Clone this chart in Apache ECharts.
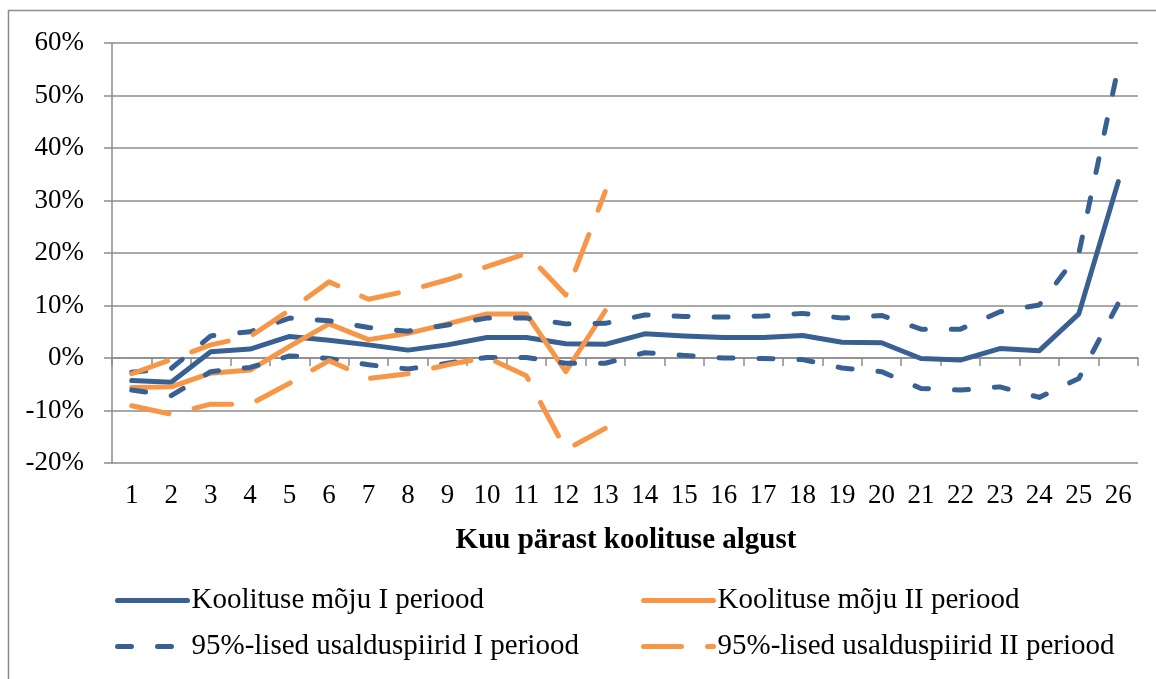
<!DOCTYPE html>
<html>
<head>
<meta charset="utf-8">
<script src="https://cdn.jsdelivr.net/npm/echarts@6/dist/echarts.min.js"></script>
<style>
html,body{margin:0;padding:0;background:#fff;}
#chart{width:1156px;height:679px;}
</style>
</head>
<body>
<div id="chart"></div>
<script>
const categories = ['1','2','3','4','5','6','7','8','9','10','11','12','13','14','15','16','17','18','19','20','21','22','23','24','25','26'];
const yTicks = [-20, -10, 0, 10, 20, 30, 40, 50, 60];
const blueMain  = [-4.3,-4.6,1.2,1.7,4.1,3.4,2.5,1.5,2.5,3.9,3.9,2.7,2.6,4.6,4.2,3.9,3.9,4.3,3.0,2.9,-0.1,-0.4,1.8,1.4,8.4,33.6];
const blueUpper = [-2.7,-2.0,4.2,5.0,7.6,7.1,5.8,5.1,6.3,7.6,7.6,6.5,6.6,8.2,7.9,7.8,8.0,8.5,7.6,8.1,5.5,5.5,8.8,10.1,19.9,55.4];
const blueLower = [-6.1,-7.2,-2.6,-1.8,0.4,-0.1,-1.3,-2.1,-1.0,0.1,0.1,-1.0,-1.0,1.0,0.5,0.0,-0.1,-0.3,-1.9,-2.6,-5.8,-6.1,-5.5,-7.5,-3.9,10.4];
const orangeMain  = [-5.6,-5.5,-2.9,-2.3,2.2,6.5,3.5,4.7,6.5,8.4,8.4,-2.6,9.0];
const orangeUpper = [-3.0,-0.3,2.5,4.1,9.1,14.5,11.2,12.8,14.9,17.4,19.9,12.0,31.7];
const orangeLower = [-9.1,-10.7,-8.8,-8.8,-4.8,-0.5,-3.9,-3.0,-1.3,0.1,-3.4,-17.5,-13.4];
const names = ['Koolituse mõju I periood','Koolituse mõju II periood','95%-lised usalduspiirid I periood','95%-lised usalduspiirid II periood'];

const BLUE = '#386093';
const ORANGE = '#F79646';
const GRID = '#8C8C8C';
const FONT = "'Liberation Serif', 'Times New Roman', serif";

const chart = echarts.init(document.getElementById('chart'), null, {renderer:'canvas'});

function line(name, data, color, dash){
  return {
    name: name, type: 'line', data: data, xAxisIndex: 0, yAxisIndex: 0,
    symbol: 'none', showSymbol: false, connectNulls: false, silent: true,
    lineStyle: {color: color, width: 5, type: dash || 'solid', cap: 'round', join: 'round'},
    itemStyle: {color: color},
    emphasis: {disabled: true},
    animation: false
  };
}
const blueDash = [14, 26];
const orangeDash = [38, 26];

function legend(name, left, top){
  return {
    data: [name], left: left, top: top, padding: 0, itemWidth: 70, itemHeight: 14, itemGap: 0,
    selectedMode: false,
    itemStyle: {opacity: 0},
    lineStyle: {width: 5, cap: 'round'},
    textStyle: {fontFamily: FONT, fontSize: 29, color: '#000', padding: [0,0,0,-1]}
  };
}

chart.setOption({
  backgroundColor: '#fff',
  animation: false,
  grid: [
    {left: 112, right: 18, top: 43, bottom: 216, containLabel: false},
    {left: 112, right: 18, top: 358, height: 105, containLabel: false}
  ],
  xAxis: [
    {
      gridIndex: 0, type: 'category', data: categories, boundaryGap: true, position: 'bottom',
      axisLine: {show: false, onZero: false}, axisTick: {show: false},
      axisLabel: {show: true, interval: 0, margin: 19, fontFamily: FONT, fontSize: 27, color: '#000'},
      splitLine: {show: false}
    },
    {
      gridIndex: 1, type: 'category', data: categories, boundaryGap: true, position: 'top',
      axisLine: {show: true, onZero: false, lineStyle: {color: GRID, width: 1.5}},
      axisTick: {show: true, inside: true, interval: 0, length: 8, lineStyle: {color: GRID, width: 1.5}},
      axisLabel: {show: false},
      splitLine: {show: false}
    }
  ],
  yAxis: [
    {
      gridIndex: 0, type: 'value', min: yTicks[0], max: yTicks[yTicks.length-1], interval: 10,
      axisLine: {show: true, onZero: false, lineStyle: {color: GRID, width: 1.5}},
      axisTick: {show: true, length: 8, lineStyle: {color: GRID, width: 1.5}},
      axisLabel: {formatter: '{value}%', margin: 28, fontFamily: FONT, fontSize: 27, color: '#000'},
      splitLine: {show: true, lineStyle: {color: GRID, width: 1.5}}
    },
    {
      gridIndex: 1, type: 'value', min: 0, max: 1, show: false,
      axisLine: {show: false, onZero: false}, axisTick: {show: false}, axisLabel: {show: false}, splitLine: {show: false}
    }
  ],
  legend: [
    legend(names[0], 115, 586),
    legend(names[1], 641, 586),
    legend(names[2], 115, 632),
    legend(names[3], 641, 632)
  ],
  graphic: [
    {type: 'rect', silent: true, z: -1, shape: {x: 8.5, y: 10.5, width: 1200, height: 720},
     style: {fill: 'none', stroke: GRID, lineWidth: 1.5}},
    {type: 'text', silent: true, x: 626, y: 541,
     style: {text: 'Kuu pärast koolituse algust', font: "bold 29px 'Liberation Serif', serif", fill: '#000', textAlign: 'center', textVerticalAlign: 'middle'}}
  ],
  series: [
    line(names[0], blueMain, BLUE),
    line(names[1], orangeMain, ORANGE),
    line(names[2], blueUpper, BLUE, blueDash),
    line(names[2], blueLower, BLUE, blueDash),
    line(names[3], orangeUpper, ORANGE, orangeDash),
    line(names[3], orangeLower, ORANGE, orangeDash)
  ]
});
</script>
</body>
</html>
